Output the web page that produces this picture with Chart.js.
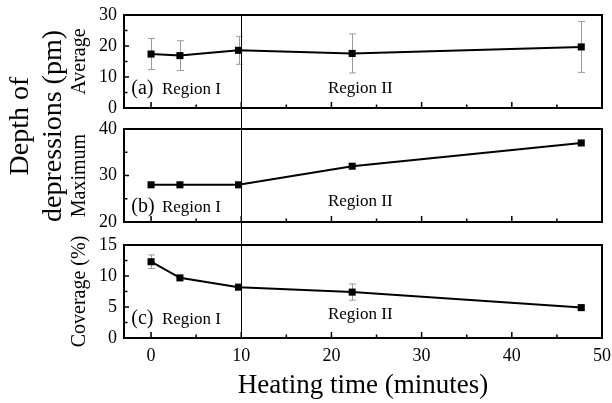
<!DOCTYPE html>
<html>
<head>
<meta charset="utf-8">
<script src="https://cdn.jsdelivr.net/npm/chart.js@4.4.0/dist/chart.umd.min.js"></script>
<style>
  html, body { margin: 0; padding: 0; background: #fff; }
  #wrap { position: relative; width: 612px; height: 403px; }
  #wrap canvas { position: absolute; left: 0; top: 0; }
</style>
</head>
<body>
<div id="wrap">
  <canvas id="panel-a" width="612" height="403"></canvas>
  <canvas id="panel-b" width="612" height="403"></canvas>
  <canvas id="panel-c" width="612" height="403"></canvas>
</div>
<script>
// Data
const heatingTime = [0, 3.2, 9.7, 22.3, 47.7];
const avgDepth = [17.4, 16.9, 18.6, 17.6, 19.7];
const avgDepthErr = [5.0, 4.8, 4.5, 6.3, 8.2];
const maxDepth = [28, 28, 28, 32, 37];
const coverage = [12.3, 9.7, 8.2, 7.4, 4.9];
const coverageErr = [1.1, 0, 0, 1.3, 0];

// Tick labels
const xTicks = [0, 10, 20, 30, 40, 50];
const avgTicks = [0, 10, 20, 30];
const maxTicks = [20, 30, 40];
const coverageTicks = [0, 5, 10, 15];

// Texts
const panelTags = ['(a)', '(b)', '(c)'];
const regionLabels = ['Region I', 'Region II'];
const regionBoundary = 10;
const outerTitle = ['Depth of', 'depressions (pm)'];

const FONT = "'Liberation Serif', 'DejaVu Serif', serif";
const panels = [];

// midpoints between major ticks
function minorOf(ticks) {
    const out = [];
    for (let i = 0; i < ticks.length - 1; i++) out.push((ticks[i] + ticks[i + 1]) / 2);
    return out;
}

// drop the label overhang so every panel keeps the same plot box
function noOverhang(s) {
    s.paddingLeft = 0;
    s.paddingRight = 0;
    s.paddingTop = 0;
    s.paddingBottom = 0;
}

// frame, inward ticks, error bars, labels
const decor = {
    id: 'decor',
    beforeDatasetsDraw(chart, args, opts) {
        const {ctx} = chart;
        const x = chart.scales.x, y = chart.scales.y;
        if (!opts.err) return;
        ctx.save();
        ctx.strokeStyle = '#9a9a9a';
        ctx.lineWidth = 1;
        opts.err.forEach((e, i) => {
            if (!e) return;
            const px = Math.round(x.getPixelForValue(heatingTime[i])) + 0.5;
            const v = opts.values[i];
            const top = y.getPixelForValue(v + e), bot = y.getPixelForValue(v - e);
            ctx.beginPath();
            ctx.moveTo(px, top); ctx.lineTo(px, bot);
            ctx.moveTo(px - 3.5, top); ctx.lineTo(px + 3.5, top);
            ctx.moveTo(px - 3.5, bot); ctx.lineTo(px + 3.5, bot);
            ctx.stroke();
        });
        ctx.restore();
    },
    afterDraw(chart, args, opts) {
        const {ctx, chartArea: a} = chart;
        const x = chart.scales.x, y = chart.scales.y;
        ctx.save();
        // inward ticks
        ctx.strokeStyle = '#000';
        ctx.lineWidth = 1.5;
        ctx.beginPath();
        xTicks.forEach(v => {
            const px = x.getPixelForValue(v);
            ctx.moveTo(px, a.bottom); ctx.lineTo(px, a.bottom - 6);
        });
        minorOf(xTicks).forEach(v => {
            const px = x.getPixelForValue(v);
            ctx.moveTo(px, a.bottom); ctx.lineTo(px, a.bottom - 3.5);
        });
        opts.yTicks.forEach(v => {
            const py = y.getPixelForValue(v);
            ctx.moveTo(a.left, py); ctx.lineTo(a.left + 5, py);
        });
        minorOf(opts.yTicks).forEach(v => {
            const py = y.getPixelForValue(v);
            ctx.moveTo(a.left, py); ctx.lineTo(a.left + 3.5, py);
        });
        ctx.stroke();

        // frame
        ctx.lineWidth = 2;
        ctx.strokeRect(a.left, a.top, a.right - a.left, a.bottom - a.top);

        // panel tag and region labels
        ctx.fillStyle = '#000';
        ctx.textBaseline = 'alphabetic';
        ctx.textAlign = 'left';
        ctx.font = '20px ' + FONT;
        ctx.fillText(panelTags[opts.index], x.getPixelForValue(-2.2), a.bottom - opts.tagLift);
        ctx.font = '17px ' + FONT;
        ctx.fillText(regionLabels[0], x.getPixelForValue(1.2), a.bottom - opts.tagLift);
        ctx.textAlign = 'center';
        ctx.fillText(regionLabels[1], x.getPixelForValue(23.2), a.bottom - opts.regionLift);

        // boundary line through all three panels
        if (opts.index === 2) {
            const bx = Math.round(x.getPixelForValue(regionBoundary)) + 0.5;
            ctx.lineWidth = 1;
            ctx.beginPath();
            ctx.moveTo(bx, panels[0].chartArea.top);
            ctx.lineTo(bx, a.bottom);
            ctx.stroke();
        }

        // shared outer title
        if (opts.index === 0) {
            ctx.font = '28px ' + FONT;
            ctx.textAlign = 'center';
            ctx.translate(28, 126);
            ctx.rotate(-Math.PI / 2);
            ctx.fillText(outerTitle[0], 0, 0);
            ctx.fillText(outerTitle[1], 0, 33);
        }
        ctx.restore();
    }
};

function makePanel(id, index, values, err, yTicks, yTitle, pad, showX) {
    const cfg = {
        type: 'line',
        data: {
            datasets: [{
                data: heatingTime.map((t, i) => ({x: t, y: values[i]})),
                borderColor: '#000',
                backgroundColor: '#000',
                borderWidth: 2,
                pointStyle: 'rect',
                pointRadius: 5,
                pointBorderWidth: 0,
                tension: 0
            }]
        },
        options: {
            responsive: false,
            animation: false,
            events: [],
            layout: { padding: pad },
            plugins: {
                legend: { display: false },
                tooltip: { enabled: false },
                decor: { index, yTicks, err, values,
                         tagLift: index === 1 ? 10 : 14,
                         regionLift: [15, 16, 19][index] }
            },
            scales: {
                x: {
                    type: 'linear',
                    min: -3,
                    max: 50,
                    grid: { display: false, drawTicks: false },
                    border: { display: false },
                    afterBuildTicks: s => { s.ticks = xTicks.map(v => ({value: v})); },
                    afterFit: s => { s.height = showX ? 65 : 0; noOverhang(s); },
                    ticks: {
                        display: showX,
                        color: '#000',
                        padding: 7,
                        maxRotation: 0,
                        font: { family: FONT, size: 18 }
                    },
                    title: {
                        display: showX,
                        text: 'Heating time (minutes)',
                        color: '#000',
                        padding: { top: 0, bottom: 1 },
                        font: { family: FONT, size: 27 }
                    }
                },
                y: {
                    min: yTicks[0],
                    max: yTicks[yTicks.length - 1],
                    grid: { display: false, drawTicks: false },
                    border: { display: false },
                    afterBuildTicks: s => { s.ticks = yTicks.map(v => ({value: v})); },
                    afterFit: s => { s.width = 58; noOverhang(s); },
                    ticks: {
                        color: '#000',
                        padding: 7,
                        font: { family: FONT, size: 18 }
                    },
                    title: {
                        display: true,
                        text: yTitle,
                        color: '#000',
                        padding: { top: 2, bottom: 0 },
                        font: { family: FONT, size: 20 }
                    }
                }
            }
        },
        plugins: [decor]
    };
    const chart = new Chart(document.getElementById(id), cfg);
    panels.push(chart);
    return chart;
}

makePanel('panel-a', 0, avgDepth, avgDepthErr, avgTicks, 'Average',
    { left: 66, right: 10, top: 15, bottom: 295 }, false);
makePanel('panel-b', 1, maxDepth, null, maxTicks, 'Maximum',
    { left: 66, right: 10, top: 129, bottom: 181 }, false);
makePanel('panel-c', 2, coverage, coverageErr, coverageTicks, 'Coverage (%)',
    { left: 66, right: 10, top: 245, bottom: 0 }, true);
</script>
</body>
</html>
